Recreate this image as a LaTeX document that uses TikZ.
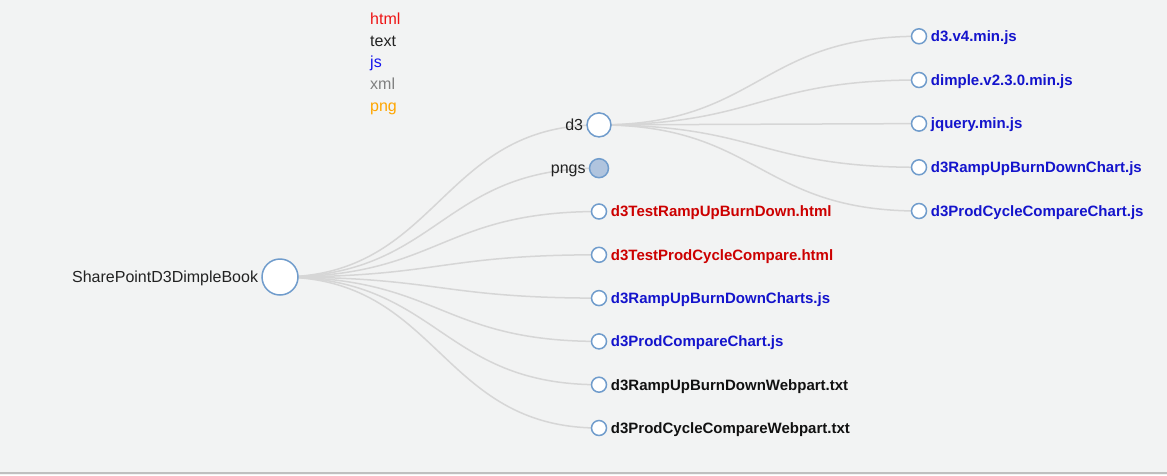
\documentclass[tikz,border=0pt]{standalone}
\usepackage{fontspec}
\setmainfont{Liberation Sans}
\usetikzlibrary{calc}

\definecolor{bgcol}{RGB}{242,243,243}
\definecolor{ringcol}{RGB}{112,156,204}
\definecolor{linkcol}{RGB}{214,214,214}
\definecolor{pngfill}{RGB}{176,196,222}
\definecolor{htmlcol}{RGB}{204,0,0}
\definecolor{jscol}{RGB}{20,20,204}
\definecolor{txtcol}{RGB}{17,17,17}
\definecolor{inkcol}{RGB}{34,34,34}

\pgfdeclarelayer{bg}
\pgfdeclarelayer{links}
\pgfsetlayers{bg,links,main}

\newcommand{\regfont}{\fontsize{16}{19}\selectfont}
\newcommand{\filefont}{\fontsize{15}{18}\selectfont\bfseries}
% horizontal d3-style diagonal between two node centres
\newcommand{\diag}[2]{%
  \draw[linkline] let \p1=(#1.center), \p2=(#2.center) in
    (\p1) .. controls ({(\x1+\x2)/2},\y1) and ({(\x1+\x2)/2},\y2) .. (\p2);}

\tikzset{
  dirnode/.style={circle, draw=ringcol, line width=1.5pt, fill=white, inner sep=0pt},
  filenode/.style={dirnode, minimum size=15pt},
  linkline/.style={draw=linkcol, line width=1.5pt},
  dirname/.style={label={[font=\regfont, text=inkcol, anchor=base east, inner sep=0pt,
    xshift=-3pt, yshift=-5.6pt]left:#1}},
  filename/.style 2 args={label={[font=\filefont, text=#1, anchor=base west, inner sep=0pt,
    xshift=3.5pt, yshift=-5.3pt]right:#2}},
  legend/.style={anchor=base west, inner sep=0pt, font=\regfont}
}

\begin{document}
\begin{tikzpicture}[x=1pt, y=-1pt]
            \useasboundingbox (0,0) rectangle (1167,475);
            \begin{pgfonlayer}{bg}
                \fill[bgcol] (0,0) rectangle (1167,475);
                \draw[black!25, line width=1.5pt] (0,473) -- (1167,473);
            \end{pgfonlayer}

            % legend
            \node[legend, text={rgb,255:red,238;green,20;blue,20}] (lhtml) at (370,24) {html};
            \node[legend, text=inkcol] (ltext) at (370,46) {text};
            \node[legend, text={rgb,255:red,20;green,20;blue,238}] (ljs) at (370,67.7) {js};
            \node[legend, text=black!50] (lxml) at (370,89.3) {xml};
            \node[legend, text={rgb,255:red,255;green,166;blue,0}] (lpng) at (370,111) {png};

            % tree
            \node[dirnode, minimum size=36pt, dirname=SharePointD3DimpleBook] (book) at (280,277) {};
            \node[dirnode, minimum size=24pt, dirname=d3] (d3) at (599,124.9) {};
            \node[dirnode, fill=pngfill, minimum size=19pt, dirname=pngs] (pngs) at (599,168.2) {};
            \node[filenode, filename={htmlcol}{d3TestRampUpBurnDown.html}] (testramp) at (599,211.5) {};
            \node[filenode, filename={htmlcol}{d3TestProdCycleCompare.html}] (testprod) at (599,254.8) {};
            \node[filenode, filename={jscol}{d3RampUpBurnDownCharts.js}] (rampjs) at (599,298.1) {};
            \node[filenode, filename={jscol}{d3ProdCompareChart.js}] (prodjs) at (599,341.4) {};
            \node[filenode, filename={txtcol}{d3RampUpBurnDownWebpart.txt}] (rampweb) at (599,384.7) {};
            \node[filenode, filename={txtcol}{d3ProdCycleCompareWebpart.txt}] (prodweb) at (599,428) {};

            \node[filenode, filename={jscol}{d3.v4.min.js}] (d3lib) at (919,36.3) {};
            \node[filenode, filename={jscol}{dimple.v2.3.0.min.js}] (dimplelib) at (919,80) {};
            \node[filenode, filename={jscol}{jquery.min.js}] (jquerylib) at (919,123.6) {};
            \node[filenode, filename={jscol}{d3RampUpBurnDownChart.js}] (rampchart) at (919,167.3) {};
            \node[filenode, filename={jscol}{d3ProdCycleCompareChart.js}] (prodchart) at (919,211) {};

            \begin{pgfonlayer}{links}
                \foreach \kid in {d3,pngs,testramp,testprod,rampjs,prodjs,rampweb,prodweb}
                    {\diag{book}{\kid}}
                \foreach \kid in {d3lib,dimplelib,jquerylib,rampchart,prodchart}
                    {\diag{d3}{\kid}}
            \end{pgfonlayer}
        \end{tikzpicture}
\end{document}
